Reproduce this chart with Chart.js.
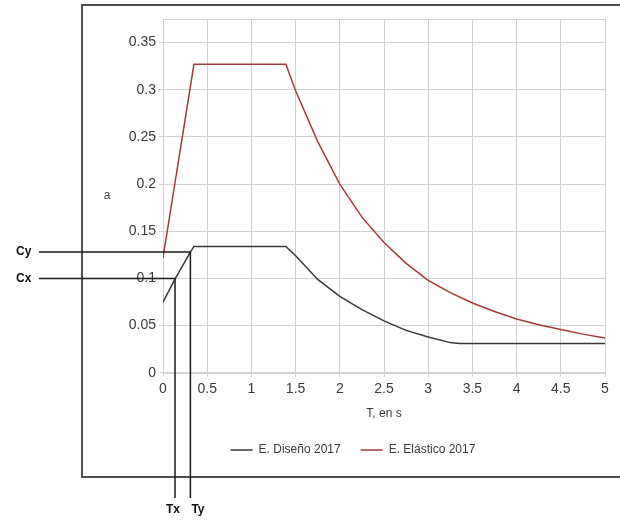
<!DOCTYPE html>
<html>
<head>
<meta charset="utf-8">
<script src="https://cdn.jsdelivr.net/npm/chart.js@4.4.1/dist/chart.umd.min.js"></script>
<style>
  html, body { margin: 0; padding: 0; background: #fff; overflow: hidden; }
  canvas { display: block; }
</style>
</head>
<body>
<canvas id="espectro" width="620" height="520"></canvas>
<script>
// Periodos T (s) y aceleraciones
const periodosDiseno = [0, 0.14, 0.31, 0.35, 1.39, 1.5, 1.75, 2, 2.25, 2.5, 2.75, 3, 3.25, 3.35, 3.5, 4, 4.5, 5];
const aceleracionDiseno = [0.075, 0.100, 0.128, 0.134, 0.134, 0.124, 0.099, 0.081, 0.067, 0.055, 0.045, 0.038, 0.032, 0.031, 0.031, 0.031, 0.031, 0.031];

const periodosElastico = [0, 0.35, 1.39, 1.5, 1.75, 2, 2.25, 2.5, 2.75, 3, 3.25, 3.5, 3.75, 4, 4.25, 4.5, 4.75, 5];
const aceleracionElastico = [0.122, 0.327, 0.327, 0.299, 0.245, 0.200, 0.165, 0.138, 0.116, 0.098, 0.085, 0.074, 0.065, 0.057, 0.051, 0.046, 0.041, 0.037];

const nombresSeries = ['E. Diseño 2017', 'E. Elástico 2017'];

// Ticks de los ejes
const ticksX = [0, 0.5, 1, 1.5, 2, 2.5, 3, 3.5, 4, 4.5, 5];
const etiquetasX = ['0', '0.5', '1', '1.5', '2', '2.5', '3', '3.5', '4', '4.5', '5'];
const ticksY = [0, 0.05, 0.1, 0.15, 0.2, 0.25, 0.3, 0.35];
const etiquetasY = ['0', '0.05', '0.1', '0.15', '0.2', '0.25', '0.3', '0.35'];

// Marcas auxiliares (Cx, Cy) sobre el eje a y (Tx, Ty) sobre el eje T
const etiquetasC = ['Cx', 'Cy'];
const valoresC = [0.1, 0.128];
const etiquetasT = ['Tx', 'Ty'];
const valoresT = [0.136, 0.31];

const colorGrilla = '#d2d2d2';
const colorTexto = '#3a3a3a';

function puntos(xs, ys) {
    return xs.map((x, i) => ({ x: x, y: ys[i] }));
}

// Marco exterior del control y borde del área de trazado
const marcoGrafico = {
    id: 'marcoGrafico',
    beforeDraw(chart) {
        const ctx = chart.ctx;
        ctx.save();
        ctx.fillStyle = '#ffffff';
        ctx.fillRect(0, 0, chart.width, chart.height);
        ctx.strokeStyle = '#505050';
        ctx.lineWidth = 2;
        ctx.strokeRect(82, 5, 600, 472);
        ctx.restore();
    },
    beforeDatasetsDraw(chart) {
        const a = chart.chartArea;
        const ctx = chart.ctx;
        ctx.save();
        ctx.strokeStyle = colorGrilla;
        ctx.lineWidth = 1;
        ctx.strokeRect(Math.round(a.left) + 0.5, Math.round(a.top) + 0.5,
            Math.round(a.right - a.left), Math.round(a.bottom - a.top));
        ctx.restore();
    }
};

// Título "a" sin rotar y las líneas de Cx, Cy, Tx, Ty
const anotaciones = {
    id: 'anotaciones',
    afterDraw(chart) {
        const ctx = chart.ctx;
        const sx = chart.scales.x;
        const sy = chart.scales.y;
        const area = chart.chartArea;
        ctx.save();

        ctx.fillStyle = colorTexto;
        ctx.font = '12px "Liberation Sans", Arial, sans-serif';
        ctx.textAlign = 'center';
        ctx.textBaseline = 'middle';
        ctx.fillText('a', 107, (area.top + area.bottom) / 2);

        ctx.strokeStyle = '#1a1a1a';
        ctx.lineWidth = 1.5;
        ctx.fillStyle = '#111';
        ctx.font = 'bold 12px "Liberation Sans", Arial, sans-serif';
        const bajo = 498;

        valoresC.forEach((c, i) => {
            const py = sy.getPixelForValue(c);
            const px = sx.getPixelForValue(valoresT[i]);
            ctx.beginPath();
            ctx.moveTo(39, py);
            ctx.lineTo(px, py);
            ctx.moveTo(px, py);
            ctx.lineTo(px, bajo);
            ctx.stroke();

            ctx.textAlign = 'left';
            ctx.textBaseline = 'middle';
            ctx.fillText(etiquetasC[i], 16, py);

            ctx.textAlign = i === 0 ? 'center' : 'left';
            ctx.fillText(etiquetasT[i], i === 0 ? px - 2 : px + 1, 510);
        });
        ctx.restore();
    }
};

const ctx = document.getElementById('espectro');

new Chart(ctx, {
    type: 'line',
    data: {
        datasets: [
            {
                label: nombresSeries[0],
                data: puntos(periodosDiseno, aceleracionDiseno),
                borderColor: '#383838',
                borderWidth: 1.5,
                pointRadius: 0,
                fill: false
            },
            {
                label: nombresSeries[1],
                data: puntos(periodosElastico, aceleracionElastico),
                borderColor: '#a23a3a',
                borderWidth: 1.5,
                pointRadius: 0,
                fill: false
            }
        ]
    },
    options: {
        responsive: false,
        animation: false,
        layout: { padding: { left: 101, right: 15, top: 19, bottom: 54 } },
        plugins: {
            tooltip: { enabled: false },
            legend: {
                position: 'bottom',
                labels: {
                    usePointStyle: true,
                    pointStyle: 'line',
                    pointStyleWidth: 22,
                    padding: 20,
                    color: colorTexto,
                    font: { family: '"Liberation Sans", Arial, sans-serif', size: 12 }
                }
            }
        },
        scales: {
            x: {
                type: 'linear',
                min: 0,
                max: 5,
                afterBuildTicks: axis => { axis.ticks = ticksX.map(v => ({ value: v })); },
                ticks: {
                    callback: (v, i) => etiquetasX[i],
                    color: colorTexto,
                    padding: 4,
                    maxRotation: 0,
                    font: { family: '"Liberation Sans", Arial, sans-serif', size: 14 }
                },
                grid: { color: colorGrilla, tickLength: 4 },
                border: { color: colorGrilla },
                title: {
                    display: true,
                    text: 'T, en s',
                    color: colorTexto,
                    padding: { top: 5, bottom: 3 },
                    font: { family: '"Liberation Sans", Arial, sans-serif', size: 12 }
                }
            },
            y: {
                type: 'linear',
                min: 0,
                max: 0.375,
                afterBuildTicks: axis => { axis.ticks = ticksY.map(v => ({ value: v })); },
                afterFit: axis => { axis.width = 62; },
                ticks: {
                    callback: (v, i) => etiquetasY[i],
                    color: colorTexto,
                    padding: 3,
                    font: { family: '"Liberation Sans", Arial, sans-serif', size: 14 }
                },
                grid: { color: colorGrilla, tickLength: 4 },
                border: { color: colorGrilla }
            }
        }
    },
    plugins: [marcoGrafico, anotaciones]
});
</script>
</body>
</html>
